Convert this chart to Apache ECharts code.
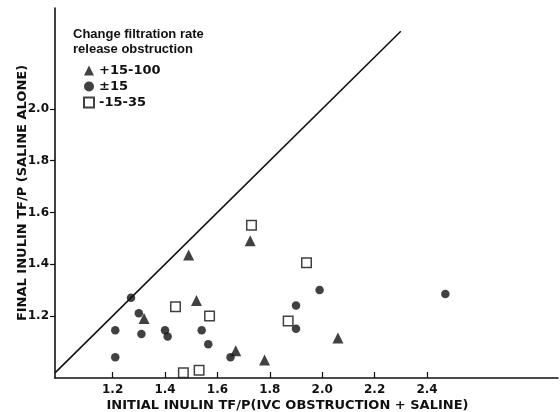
<!DOCTYPE html>
<html>
<head>
<meta charset="utf-8">
<script src="https://cdn.jsdelivr.net/npm/echarts@6/dist/echarts.min.js"></script>
<style>
  html, body { margin: 0; padding: 0; background: #fff; }
  #chart { width: 560px; height: 412px; }
</style>
</head>
<body>
<div id="chart"></div>
<script>
// data: [initial TF/P, final TF/P]
const triangles = [
  [1.49, 1.435], [1.725, 1.49], [1.52, 1.26], [1.32, 1.19],
  [1.67, 1.065], [1.78, 1.03], [2.06, 1.115]
];
const circles = [
  [1.27, 1.27], [1.30, 1.21], [1.21, 1.145], [1.21, 1.04], [1.31, 1.13],
  [1.40, 1.145], [1.41, 1.12], [1.54, 1.145], [1.565, 1.09], [1.65, 1.04],
  [1.90, 1.24], [1.90, 1.15], [1.99, 1.30], [2.47, 1.285]
];
const squares = [
  [1.73, 1.55], [1.44, 1.235], [1.57, 1.20], [1.47, 0.98],
  [1.53, 0.99], [1.94, 1.405], [1.87, 1.18]
];
const identityLine = [[0.98, 0.98], [2.3, 2.3]];
const xTicks = [1.2, 1.4, 1.6, 1.8, 2.0, 2.2, 2.4];
const yTicks = [1.2, 1.4, 1.6, 1.8, 2.0];
const legendNames = ['+15-100', '\u00b115', '-15-35'];

const font = 'Liberation Sans';
const wideFont = 'DejaVu Sans';
let myChart = echarts.init(document.getElementById('chart'));

const option = {
  animation: false,
  title: {
    text: 'Change filtration rate\nrelease obstruction',
    left: 68,
    top: 22,
    textStyle: {
      fontFamily: font,
      fontSize: 13,
      fontWeight: 'bold',
      color: '#111',
      lineHeight: 15
    }
  },
  legend: {
    orient: 'vertical',
    left: 78,
    top: 59,
    itemWidth: 10,
    itemHeight: 10,
    itemGap: 3,
    data: legendNames,
    textStyle: {
      fontFamily: wideFont,
      fontSize: 13,
      fontWeight: 'bold',
      color: '#111'
    }
  },
  grid: {
    left: 55,
    right: 2,
    top: 8,
    bottom: 34,
    outerBoundsMode: 'none',
    containLabel: false
  },
  xAxis: {
    type: 'value',
    min: 0.98,
    max: 2.9,
    name: 'INITIAL INULIN TF/P(IVC OBSTRUCTION + SALINE)',
    nameLocation: 'middle',
    nameGap: 21,
    nameMoveOverlap: false,
    nameTextStyle: {
      fontFamily: wideFont,
      fontSize: 13,
      fontWeight: 'bold',
      color: '#111',
      padding: [0, 38, 0, 0]
    },
    axisLine: { lineStyle: { color: '#111', width: 1.6 } },
    axisTick: {
      inside: true,
      length: 6,
      customValues: xTicks,
      lineStyle: { color: '#111', width: 1.2 }
    },
    axisLabel: {
      customValues: xTicks,
      margin: 6,
      fontFamily: wideFont,
      fontSize: 12,
      fontWeight: 'bold',
      color: '#111',
      formatter: (v) => v.toFixed(1)
    },
    splitLine: { show: false }
  },
  yAxis: {
    type: 'value',
    min: 0.96,
    max: 2.39,
    name: 'FINAL INULIN TF/P (SALINE ALONE)',
    nameLocation: 'middle',
    nameGap: 26,
    nameMoveOverlap: false,
    nameTextStyle: {
      fontFamily: wideFont,
      fontSize: 13,
      fontWeight: 'bold',
      color: '#111'
    },
    axisLine: { show: true, lineStyle: { color: '#111', width: 1.6 } },
    axisTick: {
      show: true,
      length: 5,
      customValues: yTicks,
      lineStyle: { color: '#111', width: 1.2 }
    },
    axisLabel: {
      customValues: yTicks,
      margin: 6,
      fontFamily: wideFont,
      fontSize: 12,
      fontWeight: 'bold',
      color: '#111',
      formatter: (v) => v.toFixed(1)
    },
    splitLine: { show: false }
  },
  series: [
    {
      name: 'identity',
      type: 'line',
      data: identityLine,
      showSymbol: false,
      silent: true,
      lineStyle: { color: '#111', width: 1.6 }
    },
    {
      name: legendNames[0],
      type: 'scatter',
      symbol: 'triangle',
      symbolSize: 11,
      data: triangles,
      itemStyle: { color: '#111' }
    },
    {
      name: legendNames[1],
      type: 'scatter',
      symbol: 'circle',
      symbolSize: 8.5,
      data: circles,
      itemStyle: { color: '#111' }
    },
    {
      name: legendNames[2],
      type: 'scatter',
      symbol: 'rect',
      symbolSize: 9.5,
      data: squares,
      itemStyle: { color: '#fff', borderColor: '#111', borderWidth: 1.5 }
    }
  ]
};

myChart.setOption(option);
</script>
</body>
</html>
